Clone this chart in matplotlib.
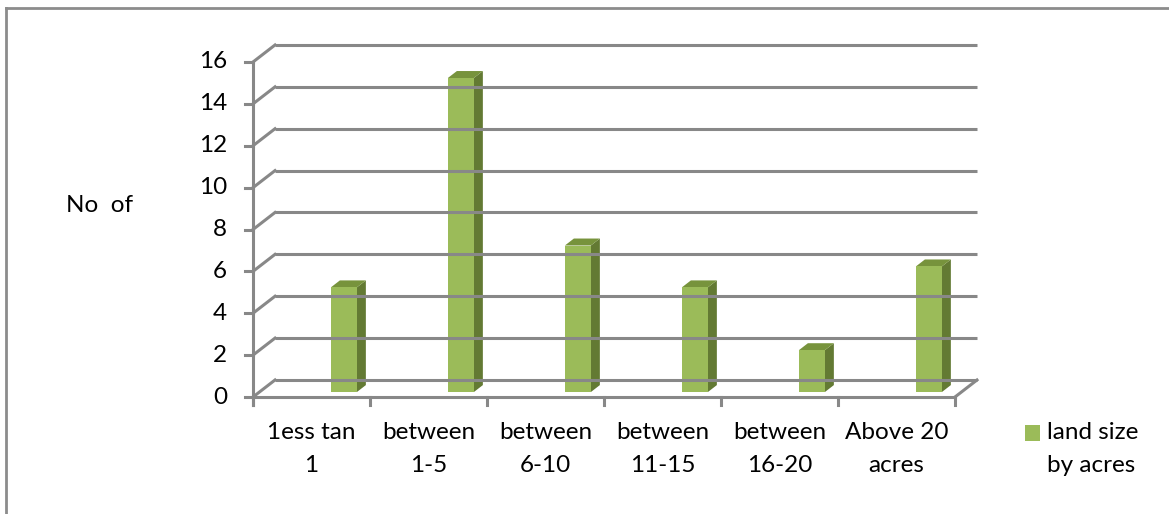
import matplotlib
matplotlib.use("Agg")
import matplotlib.pyplot as plt
from matplotlib.patches import Polygon, Rectangle
from matplotlib.lines import Line2D

categories = ["1ess tan\n1", "between\n1-5", "between\n6-10", "between\n11-15", "between\n16-20", "Above 20\nacres"]
counts = [5, 15, 7, 5, 2, 6]
y_ticks = [0, 2, 4, 6, 8, 10, 12, 14, 16]
series_name = "land size\nby acres"
y_label = "No  of"

plt.rcParams["font.family"] = ["Lato", "DejaVu Sans"]
FS = 17.5
LS = 1.72

W, H = 1169, 514
fig = plt.figure(figsize=(W / 100, H / 100), dpi=100)
ax = fig.add_axes([253 / W, (H - 397) / H, (955 - 253) / W, (397 - 62) / H])
ax.set_xlim(0, len(categories))
ax.set_ylim(0, 16)
ax.axis("off")

# depth of the box in data units (back wall sits up and to the right)
DX = 22 / 117.0
DY = 17 / 20.92


def at(x, y, d):
    return (x + d * DX, y + d * DY)


grid = "#888888"
lw = 2.2
n = len(categories)

# back wall gridlines and the diagonals back from the front axis
for v in y_ticks:
    ax.plot([at(0, v, 1)[0], at(n, v, 1)[0]], [at(0, v, 1)[1]] * 2,
            color=grid, lw=lw, clip_on=False, solid_capstyle="butt")
    ax.plot([0, at(0, v, 1)[0]], [v, at(0, v, 1)[1]],
            color=grid, lw=lw, clip_on=False)

# floor: front edge and right edge
ax.plot([0, n], [0, 0], color=grid, lw=lw, clip_on=False)
ax.plot([n, at(n, 0, 1)[0]], [0, at(n, 0, 1)[1]], color=grid, lw=lw, clip_on=False)

# front vertical axis with ticks
tick_x = -8 / 117.0
tick_y = 8 / 20.92
ax.plot([0, 0], [-tick_y, 16], color=grid, lw=lw, clip_on=False)
for v in y_ticks:
    ax.plot([tick_x, 0], [v, v], color=grid, lw=lw, clip_on=False)
    ax.annotate(str(v), (0, v), xytext=(-26, 0), textcoords="offset pixels",
                ha="right", va="center", fontsize=FS, annotation_clip=False)
for i in range(n + 1):
    ax.plot([i, i], [0, -tick_y], color=grid, lw=lw, clip_on=False)

# 3d-looking columns
front_c, top_c, side_c = "#9BBB59", "#77933C", "#637A33"
d0, d1 = 0.29, 0.70
for i, v in enumerate(counts):
    x0, x1 = i + 0.611, i + 0.833
    ax.add_patch(Polygon([at(x1, 0, d0), at(x1, v, d0), at(x1, v, d1), at(x1, 0, d1)],
                         closed=True, facecolor=side_c, edgecolor="none", clip_on=False))
    ax.add_patch(Polygon([at(x0, v, d0), at(x1, v, d0), at(x1, v, d1), at(x0, v, d1)],
                         closed=True, facecolor=top_c, edgecolor="none", clip_on=False))
    ax.add_patch(Polygon([at(x0, 0, d0), at(x1, 0, d0), at(x1, v, d0), at(x0, v, d0)],
                         closed=True, facecolor=front_c, edgecolor="none", clip_on=False))

for i, lab in enumerate(categories):
    ax.annotate(lab, (i + 0.5, 0), xytext=(0, -52), textcoords="offset pixels",
                ha="center", va="center", fontsize=FS, linespacing=LS,
                annotation_clip=False)

fig.text(100 / W, 1 - 205 / H, y_label, ha="center", va="center", fontsize=FS)

# legend
fig.add_artist(Rectangle((1025 / W, 1 - 441 / H), 15 / W, 16 / H,
                         transform=fig.transFigure, facecolor=front_c, edgecolor="none"))
fig.text(1047 / W, 1 - 449 / H, series_name, ha="left", va="center",
         fontsize=FS, linespacing=LS)

# outer frame (top and left edges visible)
border = "#8C8C8C"
fig.add_artist(Line2D([6 / W, 6 / W], [0, 1 - 8 / H], transform=fig.transFigure,
                      color=border, lw=2))
fig.add_artist(Line2D([6 / W, 1], [1 - 8 / H, 1 - 8 / H], transform=fig.transFigure,
                      color=border, lw=2))

fig.savefig("out.png", dpi=100)
